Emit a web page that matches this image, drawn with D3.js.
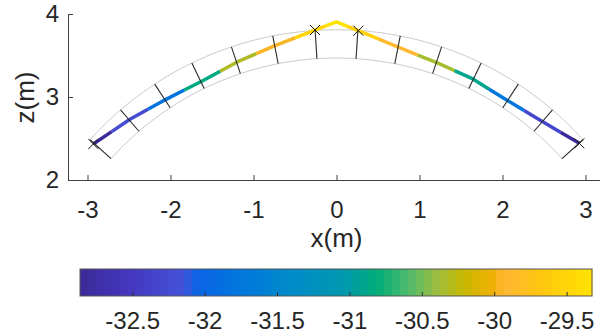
<!DOCTYPE html>
<html>
<head>
<meta charset="utf-8">
<script src="https://cdn.jsdelivr.net/npm/d3@7"></script>
<style>
  html, body { margin: 0; padding: 0; background: #fff; }
  svg { display: block; }
  text { font-family: "Liberation Sans", Arial, sans-serif; fill: #262626; }
</style>
</head>
<body>
<div id="chart"></div>
<script>
// arch geometry (m, degrees from vertical)
const archCenter = [0, -0.18];
const innerRadius = 3.65;
const outerRadius = 3.99;
const jointAngles = [-48.1, -40.7, -33.3, -25.9, -18.5, -11.1, -3.7, 3.7, 11.1, 18.5, 25.9, 33.3, 40.7, 48.1];

// thrust line
const thrustX = [-2.93, -2.488, -2.054, -1.612, -1.19, -0.741, -0.259, 0, 0.263, 0.745, 1.215, 1.629, 2.05, 2.47, 2.926];
const thrustZ = [2.434, 2.731, 2.972, 3.196, 3.425, 3.62, 3.807, 3.905, 3.799, 3.60, 3.41, 3.225, 2.964, 2.711, 2.442];
const thrustValue = [-32.86, -32.26, -31.80, -30.85, -30.32, -29.96, -29.50, -29.33, -29.55, -29.92, -30.35, -30.90, -31.75, -32.30, -32.86];

// hinges
const hingeX = [-2.93, -0.259, 0.263, 2.926];
const hingeZ = [2.434, 3.807, 3.799, 2.442];

const xTicks = [-3, -2, -1, 0, 1, 2, 3];
const zTicks = [2, 3, 4];
const cbTicks = [-32.5, -32, -31.5, -31, -30.5, -30, -29.5];
const cbLimits = [-32.864, -29.328];

// colormap (parula-like), as seen in the colorbar
const cmapStops = [0, 0.10, 0.20, 0.23, 0.32, 0.42, 0.52, 0.58, 0.64, 0.70, 0.75, 0.80, 0.83, 0.90, 1];
const cmapColors = ['#3b2a98', '#4537c0', '#4452d8', '#0a64e6', '#0078dc', '#008cc8', '#0099ac', '#00ad78',
  '#4dbb6e', '#9fbd3c', '#c9b800', '#ecb000', '#ffb833', '#ffc60f', '#ffe300'];

const W = 600, H = 336;
const FS = 24, LFS = 26;
const svg = d3.select('#chart').append('svg').attr('width', W).attr('height', H);

const x = d3.scaleLinear().domain([-3.235, 3.235]).range([68, 605]);
const z = d3.scaleLinear().domain([2, 4]).range([180, 14]);
const cmap = d3.scaleLinear().domain(cmapStops).range(cmapColors).interpolate(d3.interpolateRgb).clamp(true);
const norm = d3.scaleLinear().domain(cbLimits).range([0, 1]);
const color = (v) => cmap(norm(v));
const minus = (d) => (d < 0 ? '-' + Math.abs(d) : String(d));

const rad = (a) => a * Math.PI / 180;
const polar = (r, a) => [archCenter[0] + r * Math.sin(rad(a)), archCenter[1] + r * Math.cos(rad(a))];

// arcs (intrados / extrados)
const arcLine = d3.line().x((d) => x(d[0])).y((d) => z(d[1]));
const a0 = jointAngles[0], a1 = jointAngles[jointAngles.length - 1];
[innerRadius, outerRadius].forEach((r) => {
  const pts = d3.range(0, 101).map((i) => polar(r, a0 + (a1 - a0) * i / 100));
  svg.append('path').attr('d', arcLine(pts)).attr('fill', 'none').attr('stroke', '#cacaca').attr('stroke-width', 1);
});

// thrust line, one flat band per vertex
const pts = thrustX.map((d, i) => [d, thrustZ[i], thrustValue[i]]);
const mid = (p, q) => [(p[0] + q[0]) / 2, (p[1] + q[1]) / 2];
const bands = pts.map((p, i) => ({
  seg: [i > 0 ? mid(pts[i - 1], p) : p, p, i < pts.length - 1 ? mid(p, pts[i + 1]) : p],
  v: p[2],
}));
svg.append('g').selectAll('path').data(bands).join('path')
  .attr('d', (d) => arcLine(d.seg))
  .attr('fill', 'none')
  .attr('stroke', (d) => color(d.v))
  .attr('stroke-width', 3.5)
  .attr('stroke-linejoin', 'round');

// joints
svg.append('g').selectAll('line').data(jointAngles).join('line')
  .attr('x1', (a) => x(polar(innerRadius, a)[0])).attr('y1', (a) => z(polar(innerRadius, a)[1]))
  .attr('x2', (a) => x(polar(outerRadius, a)[0])).attr('y2', (a) => z(polar(outerRadius, a)[1]))
  .attr('stroke', '#2b2b2b').attr('stroke-width', 1.1);

// hinge markers
svg.append('g').selectAll('path').data(hingeX).join('path')
  .attr('transform', (d, i) => `translate(${x(d)},${z(hingeZ[i])})`)
  .attr('d', 'M-5,-5L5,5M-5,5L5,-5').attr('stroke', '#1a1a1a').attr('stroke-width', 1);

// axes
const gx = svg.append('g').attr('transform', 'translate(0,180)')
  .call(d3.axisBottom(x).tickValues(xTicks).tickSize(-5).tickSizeOuter(0).tickPadding(21).tickFormat(minus));
const gz = svg.append('g').attr('transform', 'translate(68,0)')
  .call(d3.axisLeft(z).tickValues(zTicks).tickSize(-5).tickSizeOuter(0).tickPadding(9).tickFormat(minus));
[gx, gz].forEach((g) => {
  g.select('.domain').attr('stroke', '#404040');
  g.selectAll('.tick line').attr('stroke', '#404040');
  g.selectAll('.tick text').attr('font-size', FS).attr('fill', '#262626')
    .attr('font-family', '"Liberation Sans", Arial, sans-serif');
});

svg.append('text').attr('x', 336.5).attr('y', 247).attr('text-anchor', 'middle').attr('font-size', LFS).text('x(m)');
svg.append('text').attr('transform', 'translate(33.5,97.5) rotate(-90)').attr('text-anchor', 'middle').attr('font-size', LFS).text('z(m)');

// colorbar
const cbX = d3.scaleLinear().domain(cbLimits).range([80, 592]);
const cbTop = 269, cbH = 27;
const nCells = 64;
const cw = (cbLimits[1] - cbLimits[0]) / nCells;
const cells = d3.range(nCells).map((i) => cbLimits[0] + cw * i);
svg.append('g').selectAll('rect').data(cells).join('rect')
  .attr('x', (d) => cbX(d)).attr('y', cbTop)
  .attr('width', (d) => cbX(d + cw) - cbX(d) + 0.5).attr('height', cbH)
  .attr('fill', (d) => color(d + cw / 2));
svg.append('rect').attr('x', 80).attr('y', cbTop).attr('width', 512).attr('height', cbH)
  .attr('fill', 'none').attr('stroke', '#555').attr('stroke-width', 1);
svg.append('g').selectAll('line').data(cbTicks).join('line')
  .attr('x1', (d) => cbX(d)).attr('x2', (d) => cbX(d))
  .attr('y1', cbTop + cbH).attr('y2', cbTop + cbH - 4)
  .attr('stroke', '#333').attr('stroke-width', 1);
svg.append('g').selectAll('text').data(cbTicks).join('text')
  .attr('x', (d) => cbX(d)).attr('y', 329)
  .attr('text-anchor', 'middle').attr('font-size', FS)
  .text(minus);
</script>
</body>
</html>
